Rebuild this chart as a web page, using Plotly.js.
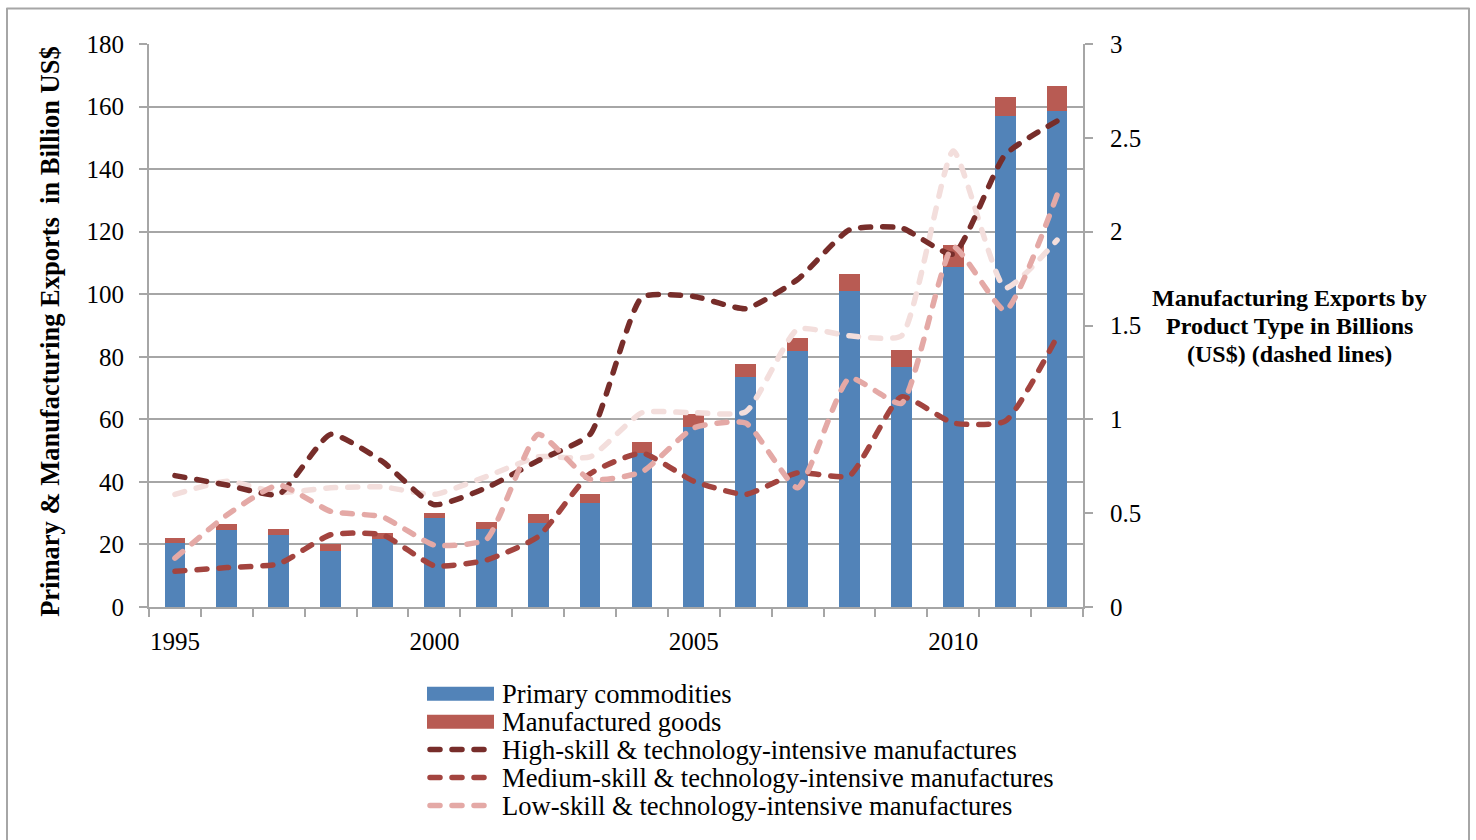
<!DOCTYPE html>
<html>
<head>
<meta charset="utf-8">
<script src="https://cdn.plot.ly/plotly-3.0.1.min.js"></script>
<style>
html,body{margin:0;padding:0;background:#fff;}
#chart{width:1476px;height:840px;}
#chart .scatterlayer path.js-line, #chart .shapelayer path{stroke-linecap:round;stroke-linejoin:round;}
#chart .shapelayer path.legrect{stroke-linecap:butt;}
</style>
</head>
<body>
<div id="chart"></div>
<script>
const years = [1995,1996,1997,1998,1999,2000,2001,2002,2003,2004,2005,2006,2007,2008,2009,2010,2011,2012];
const primaryCommodities = [20.5,24.5,22.9,17.8,21.6,28.3,25.0,26.8,33.2,49.2,57.7,73.5,81.8,101.1,76.7,108.8,157.0,158.7];
const manufacturedGoods = [1.6,2.0,2.1,2.3,2.1,1.7,2.2,2.8,2.9,3.6,4.0,4.1,4.3,5.4,5.5,7.0,6.1,7.9];
const highSkill = [0.70,0.65,0.60,0.92,0.775,0.545,0.635,0.78,0.92,1.65,1.655,1.59,1.745,2.01,2.02,1.88,2.41,2.59];
const mediumSkill = [0.19,0.21,0.23,0.385,0.385,0.22,0.25,0.375,0.71,0.82,0.67,0.60,0.715,0.70,1.12,0.98,0.99,1.44];
const lowSkill = [0.26,0.49,0.65,0.51,0.48,0.33,0.36,0.92,0.68,0.72,0.955,0.98,0.635,1.22,1.085,1.92,1.58,2.195];
const otherSeries = [0.60,0.67,0.61,0.635,0.64,0.60,0.695,0.80,0.80,1.035,1.035,1.04,1.48,1.445,1.445,2.43,1.70,1.955];
const legendLabels = ['Primary commodities','Manufactured goods',
  'High-skill & technology-intensive manufactures',
  'Medium-skill & technology-intensive manufactures',
  'Low-skill & technology-intensive manufactures'];
const leftTitle = 'Primary & Manufacturing Exports \u00a0in Billion US$';
const rightTitleLines = ['Manufacturing Exports by','Product Type in Billions','(US$) (dashed lines)'];

const FONT = 'Liberation Serif, Times New Roman, serif';
const GRAY = '#A6A6A6';
const BLUE = '#5283B8', RED = '#B85B53';
const C_HIGH = '#772D2A', C_MED = '#A3443F', C_LOW = '#E4A9A6', C_PALE = '#F3DEDC';
const DASH = '10px,12px';
const LW = 5.5;

const lineTrace = (name, y, color) => ({
  type: 'scatter', mode: 'lines', name: name, x: years, y: y, yaxis: 'y2',
  line: {color: color, width: LW, dash: DASH, shape: 'spline', smoothing: 0.5},
  showlegend: false, hoverinfo: 'skip'
});

const data = [
  {type: 'bar', name: legendLabels[0], x: years, y: primaryCommodities, width: 0.4,
   marker: {color: BLUE}, showlegend: false},
  {type: 'bar', name: legendLabels[1], x: years, y: manufacturedGoods, width: 0.4,
   marker: {color: RED}, showlegend: false},
  lineTrace('Other manufactures', otherSeries, C_PALE),
  lineTrace(legendLabels[2], highSkill, C_HIGH),
  lineTrace(legendLabels[3], mediumSkill, C_MED),
  lineTrace(legendLabels[4], lowSkill, C_LOW)
];

const L = 149, R = 1083, T = 44, B = 607.3;
const W = R - L, H = B - T;
const px = v => (v - L) / W;
const py = v => (B - v) / H;

// manual legend (rows 28px apart, as in the reference)
const legRows = [694, 722, 750, 778, 806];
const legColors = [BLUE, RED, C_HIGH, C_MED, C_LOW];
const shapes = [{
  type: 'rect', xref: 'paper', yref: 'paper', layer: 'below',
  x0: px(7), x1: px(1469), y0: py(8.5), y1: py(850),
  line: {color: GRAY, width: 2}, fillcolor: 'rgba(0,0,0,0)'
}];
const annotations = [];
legRows.forEach((yy, i) => {
  if (i < 2) {
    shapes.push({type: 'rect', xref: 'paper', yref: 'paper', x0: px(427), x1: px(494),
      y0: py(yy - 7), y1: py(yy + 7), fillcolor: legColors[i], line: {width: 0}});
  } else {
    shapes.push({type: 'line', xref: 'paper', yref: 'paper', x0: px(430), x1: px(490),
      y0: py(yy), y1: py(yy), line: {color: legColors[i], width: LW, dash: DASH}});
  }
  annotations.push({xref: 'paper', yref: 'paper', x: px(501), y: py(yy), xanchor: 'left', yanchor: 'middle',
    text: legendLabels[i].replace('&', '&amp;'), showarrow: false, font: {size: 26.6}, borderpad: 0});
});
[298, 326, 354].forEach((yy, i) => {
  annotations.push({xref: 'paper', yref: 'paper', x: px(1289), y: py(yy), xanchor: 'center', yanchor: 'middle',
    text: '<b>' + rightTitleLines[i] + '</b>', showarrow: false, font: {size: 24}, borderpad: 0});
});
annotations.push({xref: 'paper', yref: 'paper', x: px(50), y: py(332), xanchor: 'center', yanchor: 'middle',
  textangle: -90, text: '<b>' + leftTitle.replace('&', '&amp;') + '</b>', showarrow: false,
  font: {size: 26.5}, borderpad: 0});

const layout = {
  width: 1476, height: 840,
  margin: {l: L, r: 1476 - R, t: T, b: 840 - B, autoexpand: false},
  paper_bgcolor: '#fff', plot_bgcolor: '#fff',
  font: {family: FONT, size: 25, color: '#000'},
  barmode: 'stack',
  showlegend: false,
  xaxis: {
    range: [1994.5, 2012.5], tickvals: [1995, 2000, 2005, 2010], ticks: '',
    showgrid: false, zeroline: false, showline: true, linecolor: GRAY, linewidth: 2,
    ticklabelstandoff: 11, tickfont: {size: 25},
    minor: {tick0: 1994.5, dtick: 1, ticks: 'outside', ticklen: 8, tickcolor: GRAY, tickwidth: 2, showgrid: false}
  },
  yaxis: {
    range: [0, 180], dtick: 20, ticks: 'outside', ticklen: 8, tickcolor: GRAY, tickwidth: 2,
    showgrid: true, gridcolor: GRAY, gridwidth: 2, zeroline: false,
    showline: true, linecolor: GRAY, linewidth: 2, ticklabelstandoff: 10,
    tickfont: {size: 25}
  },
  yaxis2: {
    range: [0, 3], dtick: 0.5, overlaying: 'y', side: 'right', ticks: 'outside', ticklen: 8,
    tickcolor: GRAY, tickwidth: 2, showgrid: false, zeroline: false,
    showline: true, linecolor: GRAY, linewidth: 2, ticklabelstandoff: 12, tickfont: {size: 25}
  },
  annotations: annotations,
  shapes: shapes
};

Plotly.newPlot('chart', data, layout, {displayModeBar: false, responsive: false}).then(() => {
  document.querySelectorAll('#chart .shapelayer path').forEach(p => {
    if (p.style.strokeWidth === '0px' || p.style.strokeWidth === '0') p.classList.add('legrect');
  });
});
</script>
</body>
</html>
